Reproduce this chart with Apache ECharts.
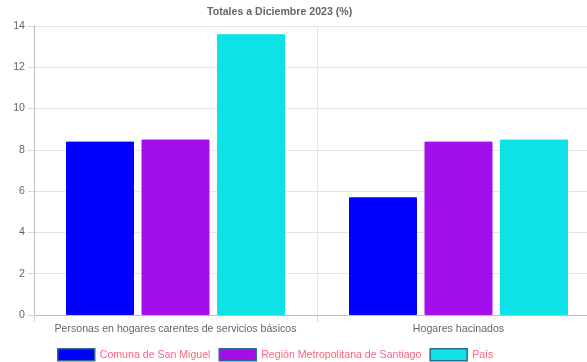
<!DOCTYPE html>
<html>
<head>
<meta charset="utf-8">
<script src="https://cdn.jsdelivr.net/npm/echarts@6/dist/echarts.min.js"></script>
<style>
  html, body { margin: 0; padding: 0; background: #fff; overflow: hidden; }
  #chart { width: 600px; height: 362px; }
</style>
</head>
<body>
<div id="chart"></div>
<script>
// Indicators and their percentages by territory
const categories = ['Personas en hogares carentes de servicios básicos', 'Hogares hacinados'];
const comunaSanMiguel = [8.4, 5.7];
const regionMetropolitana = [8.5, 8.4];
const pais = [13.6, 8.5];
const seriesNames = ['Comuna de San Miguel', 'Región Metropolitana de Santiago', 'País'];
const seriesColors = ['#0000fe', '#a30fea', '#0de3e7'];
const yTicks = { min: 0, max: 14, interval: 2 };

const chart = echarts.init(document.getElementById('chart'));
const font = '"Liberation Sans", Arial, Helvetica, sans-serif';
const fs = 10.6;
const valuesBySeries = [comunaSanMiguel, regionMetropolitana, pais];

chart.setOption({
  animation: false,
  title: {
    text: 'Totales a Diciembre 2023 (%)',
    left: 207,
    top: 7,
    padding: 0,
    textStyle: { fontFamily: font, fontSize: fs, fontWeight: 'bold', color: '#666' }
  },
  legend: {
    left: 57,
    top: 348,
    padding: 0,
    itemWidth: 37,
    itemHeight: 12,
    itemGap: 8,
    icon: 'rect',
    textStyle: { fontFamily: font, fontSize: fs, color: '#ff6384' },
    itemStyle: { borderColor: '#2f6b8c', borderWidth: 1.5 },
    data: seriesNames
  },
  grid: { left: 34, right: 0, top: 26, bottom: 47 },
  xAxis: {
    type: 'category',
    data: categories,
    axisLine: { lineStyle: { color: '#bdbdbd' } },
    axisTick: { show: true, interval: 0, length: 7, lineStyle: { color: '#d5d5d5' } },
    splitLine: { show: true, interval: 0, lineStyle: { color: '#e5e5e5' } },
    axisLabel: { interval: 0, fontFamily: font, fontSize: fs, color: '#666', margin: 9 }
  },
  yAxis: {
    type: 'value',
    min: yTicks.min,
    max: yTicks.max,
    interval: yTicks.interval,
    axisLine: { show: true, lineStyle: { color: '#bdbdbd' } },
    axisTick: { show: true, length: 6, lineStyle: { color: '#d5d5d5' } },
    splitLine: { show: true, lineStyle: { color: '#e5e5e5' } },
    axisLabel: { fontFamily: font, fontSize: fs, color: '#666', margin: 9 }
  },
  series: seriesNames.map((name, i) => ({
    name: name,
    type: 'bar',
    data: valuesBySeries[i],
    barWidth: 68,
    barGap: '11%',
    itemStyle: { color: seriesColors[i], borderColor: seriesColors[i], borderWidth: 1 }
  }))
});
</script>
</body>
</html>
